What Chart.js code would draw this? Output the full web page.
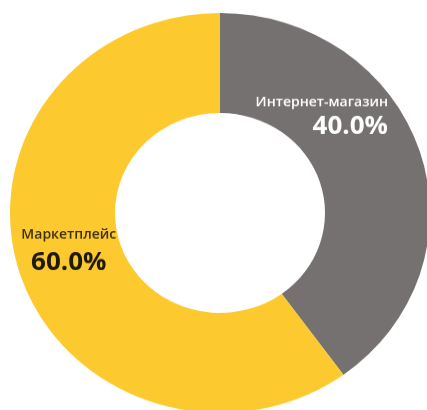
<!DOCTYPE html>
<html lang="ru">
<head>
  <meta charset="UTF-8">
  <title>Маркетплейс vs Интернет-магазин</title>
  <script src="https://cdn.jsdelivr.net/npm/chart.js"></script>
  <style>
    html, body {
      margin: 0;
      padding: 0;
      width: 427px;
      height: 410px;
      overflow: hidden;
      background: #ffffff;
    }

    /* the original donut is slightly squashed vertically */
    .wrap {
      position: absolute;
      left: 10px;
      top: 13px;
      width: 420px;
      height: 420px;
      transform: scaleY(0.952);
      transform-origin: top left;
    }
  </style>
</head>
<body>
  <div class="wrap">
    <canvas id="donut" width="420" height="420"></canvas>
  </div>

  <script>
    const categories = ['Интернет-магазин', 'Маркетплейс'];
    const shares = [40.0, 60.0];
    const sliceColors = ['#767171', '#FCCA2E'];

    // label placement, in fractions of the outer radius from the centre
    const labelStyle = [
      { dx: 0.8, nameDy: -0.55, pctDy: -0.43, align: 'right', nameColor: '#ffffff', pctColor: '#ffffff' },
      { dx: -0.72, nameDy: 0.11, pctDy: 0.25, align: 'center', nameColor: '#3b2f0f', pctColor: '#1e1807' }
    ];

    const sliceLabels = {
      id: 'sliceLabels',
      afterDatasetsDraw(chart) {
        const ctx = chart.ctx;
        const meta = chart.getDatasetMeta(0);
        meta.data.forEach((arc, i) => {
          const { x, y, outerRadius } = arc.getProps(['x', 'y', 'outerRadius'], true);
          const st = labelStyle[i];
          const ax = x + st.dx * outerRadius;
          ctx.save();
          ctx.textAlign = st.align;
          ctx.textBaseline = 'middle';
          ctx.fillStyle = st.nameColor;
          ctx.font = '600 14px "Open Sans", sans-serif';
          ctx.fillText(chart.data.labels[i], ax, y + st.nameDy * outerRadius);
          ctx.fillStyle = st.pctColor;
          ctx.font = 'bold 26px "Open Sans", sans-serif';
          const v = chart.data.datasets[0].data[i];
          ctx.fillText(v.toFixed(1) + '%', ax, y + st.pctDy * outerRadius);
          ctx.restore();
        });
      }
    };

    new Chart(document.getElementById('donut'), {
      type: 'doughnut',
      data: {
        labels: categories,
        datasets: [{
          data: shares,
          backgroundColor: sliceColors,
          borderWidth: 0
        }]
      },
      options: {
        responsive: false,
        animation: false,
        cutout: '50%',
        layout: { padding: 0 },
        plugins: {
          legend: { display: false },
          tooltip: { enabled: false }
        }
      },
      plugins: [sliceLabels]
    });
  </script>
</body>
</html>
